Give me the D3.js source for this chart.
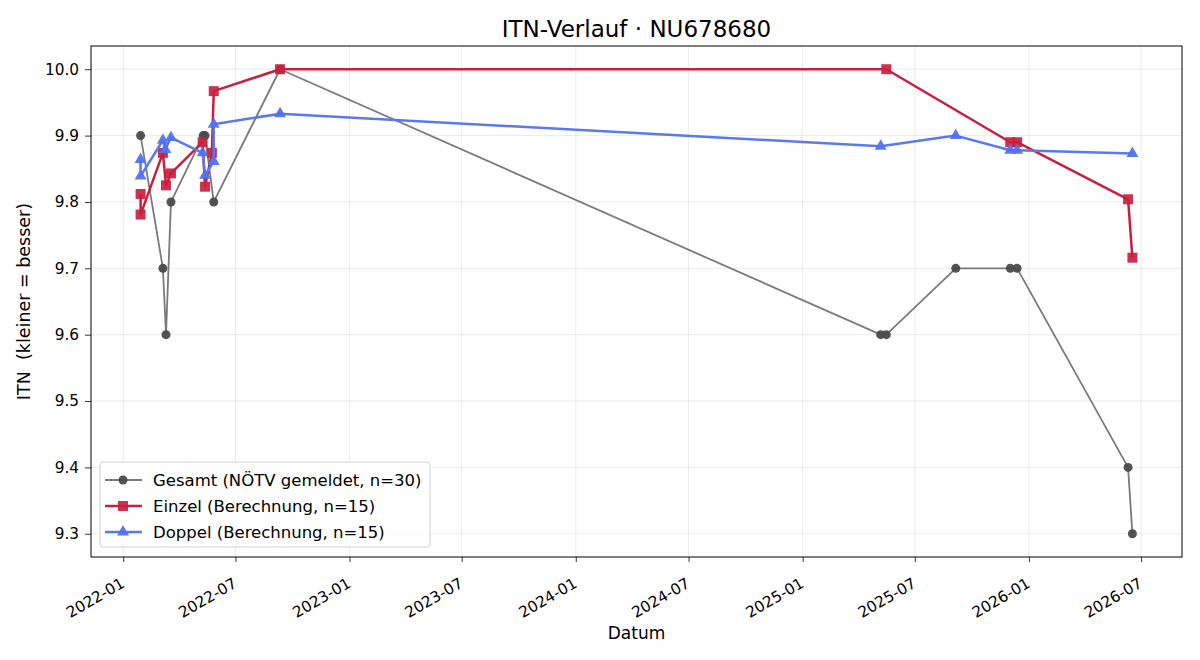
<!DOCTYPE html>
<html>
<head>
<meta charset="utf-8">
<script src="https://cdn.jsdelivr.net/npm/d3@7"></script>
<style>
  body { margin: 0; background: #fff; }
  svg { font-family: "DejaVu Sans", sans-serif; }
</style>
</head>
<body>
<div id="chart-area"></div>
<script>
const gesamtDates = ['2022-01-29', '2022-03-06', '2022-03-11', '2022-03-19', '2022-05-10', '2022-05-13',
  '2022-05-27', '2022-09-11', '2025-05-07', '2025-05-16', '2025-09-05', '2025-12-02', '2025-12-13',
  '2026-06-10', '2026-06-17'];
const gesamtValues = [9.9, 9.7, 9.6, 9.8, 9.9, 9.9, 9.8, 10.0, 9.6, 9.6, 9.7, 9.7, 9.7, 9.4, 9.3];

const einzelDates = ['2022-01-29', '2022-01-29', '2022-03-06', '2022-03-11', '2022-03-19', '2022-05-09',
  '2022-05-13', '2022-05-24', '2022-05-27', '2022-09-11', '2025-05-16', '2025-12-02', '2025-12-13',
  '2026-06-10', '2026-06-17'];
const einzelValues = [9.812, 9.781, 9.874, 9.825, 9.843, 9.890, 9.823, 9.874, 9.967, 10.0, 10.0,
  9.890, 9.890, 9.804, 9.716];

const doppelDates = ['2022-01-29', '2022-01-29', '2022-03-06', '2022-03-10', '2022-03-19', '2022-05-09',
  '2022-05-13', '2022-05-27', '2022-05-27', '2022-09-11', '2025-05-07', '2025-09-05', '2025-12-02',
  '2025-12-13', '2026-06-17'];
const doppelValues = [9.864, 9.839, 9.893, 9.879, 9.897, 9.874, 9.840, 9.861, 9.917, 9.933, 9.884,
  9.900, 9.878, 9.878, 9.873];

const xTickLabels = ['2022-01', '2022-07', '2023-01', '2023-07', '2024-01', '2024-07', '2025-01',
  '2025-07', '2026-01', '2026-07'];
const yTickValues = [9.3, 9.4, 9.5, 9.6, 9.7, 9.8, 9.9, 10.0];

const seriesNames = ['Gesamt (NÖTV gemeldet, n=30)', 'Einzel (Berechnung, n=15)', 'Doppel (Berechnung, n=15)'];

const width = 1200;
const height = 660;
const margin = { left: 91, right: 18, top: 46, bottom: 103 };
const innerW = width - margin.left - margin.right;
const innerH = height - margin.top - margin.bottom;

const parseDay = d3.timeParse('%Y-%m-%d');
const parseMonth = d3.timeParse('%Y-%m');

const makeSeries = (dates, values) => dates.map((d, i) => ({ date: parseDay(d), value: values[i] }));
const gesamt = makeSeries(gesamtDates, gesamtValues);
const einzel = makeSeries(einzelDates, einzelValues);
const doppel = makeSeries(doppelDates, doppelValues);
const all = gesamt.concat(einzel, doppel);

// matplotlib style 5% margins
const [tMin, tMax] = d3.extent(all, d => +d.date);
const tPad = (tMax - tMin) * 0.05;
const [vMin, vMax] = d3.extent(all, d => d.value);
const vPad = (vMax - vMin) * 0.05;

const scaleX = d3.scaleTime()
  .domain([new Date(tMin - tPad), new Date(tMax + tPad)])
  .range([0, innerW]);

const scaleY = d3.scaleLinear()
  .domain([vMin - vPad, vMax + vPad])
  .range([innerH, 0]);

const svg = d3.select('#chart-area').append('svg')
  .attr('width', width)
  .attr('height', height);

svg.append('text')
  .text('ITN-Verlauf · NU678680')
  .attr('x', margin.left + innerW / 2)
  .attr('y', 37)
  .attr('font-size', '23px')
  .attr('text-anchor', 'middle');

const g = svg.append('g')
  .attr('transform', `translate(${margin.left}, ${margin.top})`);

const xTicks = xTickLabels.map(parseMonth);

// grid
g.append('g')
  .selectAll('line')
  .data(xTicks)
  .join('line')
    .attr('x1', d => scaleX(d)).attr('x2', d => scaleX(d))
    .attr('y1', 0).attr('y2', innerH)
    .attr('stroke', '#b0b0b0').attr('stroke-opacity', 0.3).attr('stroke-width', 0.8);

g.append('g')
  .selectAll('line')
  .data(yTickValues)
  .join('line')
    .attr('x1', 0).attr('x2', innerW)
    .attr('y1', d => scaleY(d)).attr('y2', d => scaleY(d))
    .attr('stroke', '#b0b0b0').attr('stroke-opacity', 0.3).attr('stroke-width', 0.8);

const axisX = d3.axisBottom(scaleX)
  .tickValues(xTicks)
  .tickFormat(d3.timeFormat('%Y-%m'))
  .tickSize(5)
  .tickSizeOuter(0);

const axisY = d3.axisLeft(scaleY)
  .tickValues(yTickValues)
  .tickFormat(d3.format('.1f'))
  .tickSize(6)
  .tickSizeOuter(0);

g.append('g')
  .attr('class', 'x axis')
  .attr('transform', `translate(0, ${innerH})`)
  .call(axisX)
  .call(a => a.select('.domain').remove())
  .selectAll('text')
    .attr('font-size', '15.3px')
    .attr('font-family', 'DejaVu Sans')
    .attr('fill', '#000')
    .attr('x', -13)
    .attr('y', 15.5)
    .attr('dy', '0.71em')
    .attr('transform', 'rotate(-30)')
    .attr('text-anchor', 'end');

g.append('g')
  .attr('class', 'y axis')
  .call(axisY)
  .call(a => a.select('.domain').remove())
  .selectAll('text')
    .attr('font-size', '15.3px')
    .attr('font-family', 'DejaVu Sans')
    .attr('fill', '#000')
    .attr('x', -12);

g.selectAll('.tick line').attr('stroke', '#000').attr('stroke-width', 0.8);

g.append('rect')
  .attr('width', innerW)
  .attr('height', innerH)
  .attr('fill', 'none')
  .attr('stroke', '#000')
  .attr('stroke-width', 1);

svg.append('text')
  .text('Datum')
  .attr('x', margin.left + innerW / 2)
  .attr('y', 639)
  .attr('font-size', '17px')
  .attr('text-anchor', 'middle');

svg.append('text')
  .text('ITN  (kleiner = besser)')
  .attr('transform', `translate(30, ${margin.top + innerH / 2}) rotate(-90)`)
  .attr('font-size', '17.5px')
  .attr('text-anchor', 'middle')
  .style('white-space', 'pre')
  .attr('xml:space', 'preserve');

const line = d3.line()
  .x(d => scaleX(d.date))
  .y(d => scaleY(d.value));

const styles = [
  { data: gesamt, stroke: '#7a7a7a', width: 1.8, fill: '#4a4a4a', opacity: 0.95, symbol: d3.symbolCircle, size: 64 },
  { data: einzel, stroke: '#c91f3e', width: 2.5, fill: '#c91f3e', opacity: 0.92, symbol: d3.symbolSquare, size: 100 },
  { data: doppel, stroke: '#5a78f0', width: 2.5, fill: '#5272f0', opacity: 0.95, symbol: d3.symbolTriangle, size: 62 }
];

styles.forEach(s => {
  g.append('path')
    .datum(s.data)
    .attr('d', line)
    .attr('fill', 'none')
    .attr('stroke', s.stroke)
    .attr('stroke-width', s.width)
    .attr('stroke-linejoin', 'round');

  g.append('g')
    .selectAll('path')
    .data(s.data)
    .join('path')
      .attr('transform', d => `translate(${scaleX(d.date)}, ${scaleY(d.value)})`)
      .attr('d', d3.symbol(s.symbol, s.size))
      .attr('fill', s.fill)
      .attr('fill-opacity', s.opacity);
});

// legend
const legend = svg.append('g')
  .attr('transform', 'translate(100, 462)');

legend.append('rect')
  .attr('width', 330)
  .attr('height', 85)
  .attr('rx', 3)
  .attr('fill', '#fff')
  .attr('fill-opacity', 0.8)
  .attr('stroke', '#d0d0d0')
  .attr('stroke-width', 1);

styles.forEach((s, i) => {
  const y = 18 + i * 26;
  legend.append('line')
    .attr('x1', 5).attr('x2', 42)
    .attr('y1', y).attr('y2', y)
    .attr('stroke', s.stroke)
    .attr('stroke-width', s.width);
  legend.append('path')
    .attr('transform', `translate(23, ${y})`)
    .attr('d', d3.symbol(s.symbol, s.size))
    .attr('fill', s.fill)
    .attr('fill-opacity', s.opacity);
  legend.append('text')
    .text(seriesNames[i])
    .attr('x', 53)
    .attr('y', y + 6)
    .attr('font-size', '16.5px');
});
</script>
</body>
</html>
